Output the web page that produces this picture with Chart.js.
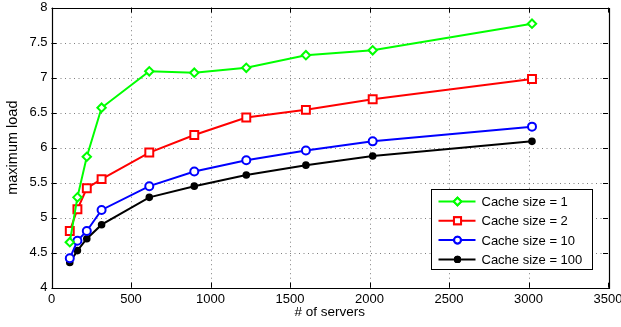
<!DOCTYPE html>
<html>
<head>
<meta charset="utf-8">
<script src="https://cdn.jsdelivr.net/npm/chart.js@4/dist/chart.umd.min.js"></script>
<style>
  html, body { margin: 0; padding: 0; background: #fff; }
  #wrap { width: 621px; height: 327px; }
</style>
</head>
<body>
<div id="wrap"><canvas id="c" width="621" height="327"></canvas></div>
<script>
// Number of servers at which each configuration was measured
const servers = [115, 163, 222, 315, 615, 898, 1225, 1600, 2020, 3022];

// Maximum load per cache size
const cache1   = [4.65, 5.29, 5.87, 6.57, 7.09, 7.07, 7.14, 7.32, 7.39, 7.77];
const cache2   = [4.81, 5.12, 5.42, 5.55, 5.93, 6.18, 6.43, 6.54, 6.69, 6.98];
const cache10  = [4.42, 4.67, 4.81, 5.11, 5.45, 5.66, 5.82, 5.96, 6.09, 6.30];
const cache100 = [4.36, 4.53, 4.70, 4.90, 5.29, 5.45, 5.61, 5.75, 5.88, 6.09];

const seriesLabels = ['Cache size = 1', 'Cache size = 2', 'Cache size = 10', 'Cache size = 100'];

// Axis ticks
const xTicks = [0, 500, 1000, 1500, 2000, 2500, 3000, 3500];
const yTicks = [4, 4.5, 5, 5.5, 6, 6.5, 7, 7.5, 8];

const FONT = 'Liberation Sans, Arial, Helvetica, sans-serif';

function pts(ys) { return servers.map((x, i) => ({ x: x, y: ys[i] })); }

const styles = [
  { color: '#00ff00', pointStyle: 'rectRot', radius: 4.2, fill: '#ffffff' },
  { color: '#ff0000', pointStyle: 'rect',    radius: 5.6, fill: '#ffffff' },
  { color: '#0000ff', pointStyle: 'circle',  radius: 4.0, fill: '#ffffff' },
  { color: '#000000', pointStyle: 'circle',  radius: 2.8, fill: '#000000' }
];
const values = [cache1, cache2, cache10, cache100];

const datasets = values.map((v, i) => ({
  label: seriesLabels[i],
  data: pts(v),
  borderColor: styles[i].color,
  backgroundColor: styles[i].fill,
  pointStyle: styles[i].pointStyle,
  pointRadius: styles[i].radius,
  pointBorderWidth: 2,
  pointBorderColor: styles[i].color,
  pointBackgroundColor: styles[i].fill,
  borderWidth: 2,
  tension: 0,
  fill: false
}));

// Dotted grid behind the data
const gridPlugin = {
  id: 'dottedGrid',
  beforeDatasetsDraw(chart) {
    const ctx = chart.ctx;
    const a = chart.chartArea;
    const xs = chart.scales.x, ys = chart.scales.y;
    ctx.save();
    ctx.strokeStyle = 'rgba(0,0,0,0.5)';
    ctx.lineWidth = 1;
    ctx.setLineDash([1, 3.5]);
    ctx.beginPath();
    xTicks.slice(1, -1).forEach(t => {
      const px = Math.round(xs.getPixelForValue(t)) + 0.5;
      ctx.moveTo(px, a.bottom); ctx.lineTo(px, a.top);
    });
    yTicks.slice(1, -1).forEach(t => {
      const py = Math.round(ys.getPixelForValue(t)) + 0.5;
      ctx.moveTo(a.left, py); ctx.lineTo(a.right, py);
    });
    ctx.stroke();
    ctx.restore();
  }
};

// Frame around the plot with inward tick marks on all four sides, plus the legend box
const framePlugin = {
  id: 'frame',
  afterDraw(chart) {
    const ctx = chart.ctx;
    const a = chart.chartArea;
    const xs = chart.scales.x, ys = chart.scales.y;
    ctx.save();
    ctx.strokeStyle = '#000';
    ctx.lineWidth = 1.2;
    ctx.beginPath();
    ctx.rect(Math.round(a.left) + 0.5, Math.round(a.top) + 0.5,
             Math.round(a.right - a.left), Math.round(a.bottom - a.top));
    ctx.stroke();
    ctx.lineWidth = 1;
    const tl = 5;
    ctx.beginPath();
    xTicks.forEach(t => {
      const px = Math.round(xs.getPixelForValue(t)) + 0.5;
      ctx.moveTo(px, a.bottom); ctx.lineTo(px, a.bottom - tl);
      ctx.moveTo(px, a.top); ctx.lineTo(px, a.top + tl);
    });
    yTicks.forEach(t => {
      const py = Math.round(ys.getPixelForValue(t)) + 0.5;
      ctx.moveTo(a.left, py); ctx.lineTo(a.left + tl, py);
      ctx.moveTo(a.right, py); ctx.lineTo(a.right - tl, py);
    });
    ctx.stroke();

    // Legend
    const lx = 431.5, ly = 189.5, lw = 161, lh = 80;
    ctx.fillStyle = '#fff';
    ctx.fillRect(lx, ly, lw, lh);
    ctx.strokeStyle = '#000';
    ctx.lineWidth = 1;
    ctx.strokeRect(lx, ly, lw, lh);
    ctx.font = '13px ' + FONT;
    ctx.textBaseline = 'middle';
    ctx.textAlign = 'left';
    seriesLabels.forEach((lab, i) => {
      const cy = ly + 12 + i * 19.3;
      const s = styles[i];
      ctx.strokeStyle = s.color;
      ctx.lineWidth = 2;
      ctx.beginPath();
      ctx.moveTo(lx + 7, cy); ctx.lineTo(lx + 44, cy);
      ctx.stroke();
      Chart.helpers.drawPoint(ctx, {
        pointStyle: s.pointStyle, rotation: 0,
        radius: s.pointStyle === 'rect' ? 5.0 : (s.pointStyle === 'rectRot' ? 3.8 : (i === 2 ? 3.4 : 2.6)),
        borderWidth: 2
      }, lx + 26, cy);
      ctx.fillStyle = s.fill;
      ctx.strokeStyle = s.color;
      ctx.fill();
      ctx.stroke();
      ctx.fillStyle = '#000';
      ctx.fillText(lab, lx + 50, cy + 1);
    });
    ctx.restore();
  }
};

new Chart(document.getElementById('c'), {
  type: 'line',
  data: { datasets: datasets },
  options: {
    responsive: false,
    animation: false,
    devicePixelRatio: 1,
    layout: { padding: { left: 0, right: 13, top: 4.6, bottom: 0 } },
    plugins: { legend: { display: false }, tooltip: { enabled: false } },
    scales: {
      x: {
        type: 'linear',
        min: 0, max: 3500,
        afterBuildTicks(scale) { scale.ticks = xTicks.map(v => ({ value: v })); },
        afterFit(scale) { scale.height = 39.3; scale.paddingLeft = 0; scale.paddingRight = 0; },
        ticks: {
          color: '#000', font: { family: FONT, size: 13 }, padding: 4,
          maxRotation: 0, autoSkip: false,
          callback: v => String(v)
        },
        grid: { display: false, drawTicks: false },
        border: { display: false },
        title: { display: true, text: '# of servers', color: '#000', font: { family: FONT, size: 13.5 }, padding: { top: 0, bottom: 7 } }
      },
      y: {
        type: 'linear',
        min: 4, max: 8,
        afterBuildTicks(scale) { scale.ticks = yTicks.map(v => ({ value: v })); },
        afterFit(scale) { scale.width = 51.5; scale.paddingTop = 0; scale.paddingBottom = 0; },
        ticks: {
          color: '#000', font: { family: FONT, size: 13 }, padding: 4,
          autoSkip: false,
          callback: v => String(v)
        },
        grid: { display: false, drawTicks: false },
        border: { display: false },
        title: { display: true, text: 'maximum load', color: '#000', font: { family: FONT, size: 14.5 }, padding: { top: 4, bottom: 0 } }
      }
    }
  },
  plugins: [gridPlugin, framePlugin]
});
</script>
</body>
</html>
